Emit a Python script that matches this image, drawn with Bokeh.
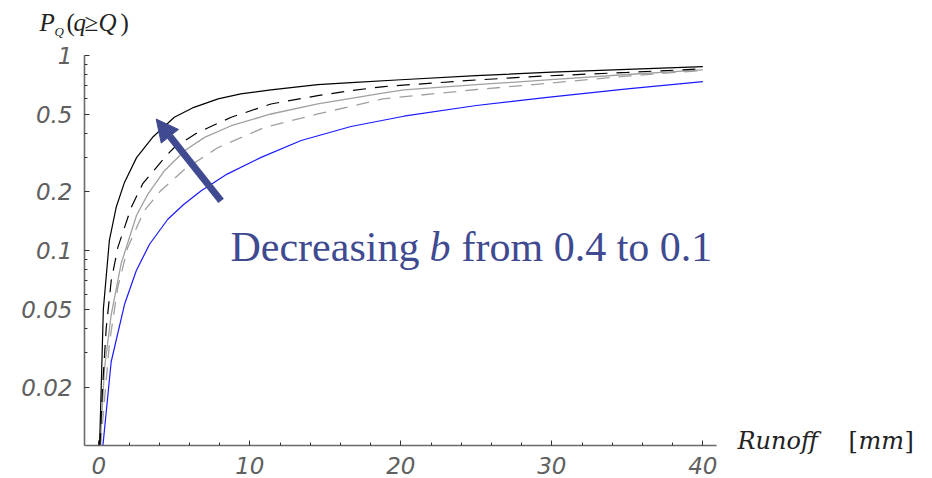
from bokeh.plotting import figure
from bokeh.models import Range1d, FixedTicker, Label, Arrow, NormalHead
from bokeh.embed import file_html
from bokeh.resources import INLINE

# ---------------- data ----------------
x_ticks = [0, 10, 20, 30, 40]
x_tick_labels = ["0", "10", "20", "30", "40"]
x_minor_ticks = [2, 4, 6, 8, 12, 14, 16, 18, 22, 24, 26, 28, 32, 34, 36, 38]
y_ticks = [0.02, 0.05, 0.1, 0.2, 0.5, 1]
y_tick_labels = ["0.02", "0.05", "0.1", "0.2", "0.5", "1"]
y_minor_ticks = [0.03, 0.04, 0.06, 0.07, 0.08, 0.09, 0.3, 0.4, 0.6, 0.7, 0.8, 0.9]

# b = 0.1 (black solid)
b01_x = [0.05, 0.16, 0.3, 0.7, 1.15, 1.7, 2.5, 3.6, 5.0, 6.3, 7.9, 9.4, 11.4, 14.5, 16.7, 20, 25, 30, 35, 40]
b01_y = [0.01, 0.02, 0.05, 0.113, 0.167, 0.224, 0.30, 0.384, 0.483, 0.543, 0.60, 0.636, 0.667, 0.71, 0.727, 0.752, 0.79, 0.822, 0.85, 0.878]
# black dashed
b02_x = [0.07, 0.25, 0.49, 0.82, 1.26, 2.15, 2.9, 4.46, 5.0, 6.56, 8.77, 11.4, 14.5, 16.7, 18.9, 25, 29.7, 35, 40]
b02_y = [0.01, 0.02, 0.040, 0.07, 0.104, 0.167, 0.22, 0.307, 0.338, 0.404, 0.483, 0.565, 0.623, 0.662, 0.694, 0.75, 0.787, 0.82, 0.855]
# grey solid
b03_x = [0.09, 0.38, 0.82, 1.48, 2.5, 3.25, 4.35, 5.7, 7.0, 8.77, 11.4, 14.5, 18.7, 20.2, 25, 29.7, 35, 40]
b03_y = [0.01, 0.025, 0.047, 0.086, 0.152, 0.195, 0.257, 0.326, 0.381, 0.437, 0.502, 0.565, 0.641, 0.667, 0.71, 0.75, 0.80, 0.845]
# grey dashed
b035_x = [0.12, 0.4, 0.71, 1.26, 1.92, 3.0, 4.1, 5.7, 7.9, 11.0, 14.5, 18.8, 25, 29.7, 35, 40]
b035_y = [0.01, 0.018, 0.034, 0.065, 0.104, 0.16, 0.203, 0.262, 0.338, 0.429, 0.502, 0.60, 0.67, 0.72, 0.785, 0.84]
# b = 0.4 (blue)
b04_x = [0.27, 0.82, 1.7, 2.48, 3.36, 4.57, 5.6, 6.78, 8.5, 10.75, 13.4, 16.7, 20.2, 25, 29.7, 35, 40]
b04_y = [0.01, 0.027, 0.053, 0.079, 0.108, 0.145, 0.172, 0.203, 0.247, 0.301, 0.367, 0.433, 0.489, 0.555, 0.611, 0.675, 0.736]

# arrow (data coordinates)
arrow_start = (8.1, 0.18)
arrow_end = (3.8, 0.473)

# axis extents (data coordinates)
x_axis_span = (-0.95, 40.9)
y_axis_span = (0.01, 1.0)

# ---------------- figure ----------------
W, H = 932, 478
AXIS_C = "#6a6a6a"
TICK_C = "#606060"
NOTE_C = "#3F4A90"

p = figure(width=W, height=H, x_range=Range1d(-6.51, 55.21), y_range=Range1d(0.00681, 1.915),
           y_axis_type="log", output_backend="svg", toolbar_location=None, min_border=0)
p.outline_line_color = None
p.grid.visible = False
p.background_fill_color = "white"
p.border_fill_color = "white"

p.xaxis.ticker = FixedTicker(ticks=x_ticks, minor_ticks=x_minor_ticks)
p.xaxis.major_label_overrides = {t: l for t, l in zip(x_ticks, x_tick_labels)}
p.yaxis.ticker = FixedTicker(ticks=y_ticks, minor_ticks=y_minor_ticks)
p.yaxis.major_label_overrides = {t: l for t, l in zip(y_ticks, y_tick_labels)}
p.xaxis.fixed_location = y_axis_span[0]
p.xaxis.bounds = x_axis_span
p.yaxis.fixed_location = x_axis_span[0]
p.yaxis.bounds = y_axis_span

for ax in (p.xaxis[0], p.yaxis[0]):
    ax.axis_line_color = AXIS_C
    ax.axis_line_width = 1.6
    ax.major_tick_line_color = "#333333"
    ax.minor_tick_line_color = "#333333"
    ax.major_tick_in = 5
    ax.major_tick_out = 0
    ax.minor_tick_in = 3
    ax.minor_tick_out = 0
    ax.major_label_text_font = "DejaVu Sans"
    ax.major_label_text_font_style = "italic"
    ax.major_label_text_color = TICK_C
    ax.major_label_text_font_size = "23px"

p.yaxis.major_label_standoff = 12
p.xaxis.major_label_standoff = 11

p.line(b04_x, b04_y, line_color="#1a1aff", line_width=1.2)
p.line(b035_x, b035_y, line_color="#a0a0a0", line_width=1.3, line_dash="13 9")
p.line(b03_x, b03_y, line_color="#a0a0a0", line_width=1.3)
p.line(b02_x, b02_y, line_color="#000000", line_width=1.2, line_dash="13 9")
p.line(b01_x, b01_y, line_color="#000000", line_width=1.2)

p.add_layout(Arrow(end=NormalHead(size=22, fill_color=NOTE_C, line_color=NOTE_C, line_width=1),
                   x_start=arrow_start[0], y_start=arrow_start[1],
                   x_end=arrow_end[0], y_end=arrow_end[1],
                   line_color=NOTE_C, line_width=7))


def lab(px, py, text, size, style="normal", font="Liberation Serif", color="#222222"):
    # px: left edge, py: text baseline in pixels from the top-left corner
    fs = float(size.replace("px", ""))
    p.add_layout(Label(x=px, y=H - (py - 0.33 * fs), x_units="screen", y_units="screen", text=text,
                       text_font=font, text_font_size=size, text_font_style=style,
                       text_color=color, text_baseline="alphabetic", text_align="left"))


# annotation text
lab(230, 260, "Decreasing", "42px", color=NOTE_C)
lab(429, 260, "b", "42px", style="italic", color=NOTE_C)
lab(461, 260, "from 0.4 to 0.1", "42px", color=NOTE_C)

# y-axis title P_Q(q>=Q)
lab(39, 30, "P", "25px", style="italic")
lab(54, 35, "Q", "13px", style="italic")
lab(66, 30, "(", "25px")
lab(73, 30, "q", "25px", style="italic")
lab(84, 30, "\u2265", "25px")
lab(98, 30, "Q", "25px", style="italic")
lab(120, 30, ")", "25px")

# x-axis title Runoff [mm]
lab(737, 448, "Runoff", "24px", style="italic", font="DejaVu Serif")
lab(848, 448, "[", "24px", font="DejaVu Serif")
lab(858, 448, "mm", "24px", style="italic", font="DejaVu Serif")
lab(904, 448, "]", "24px", font="DejaVu Serif")

open("out.html", "w").write(file_html(p, INLINE))
